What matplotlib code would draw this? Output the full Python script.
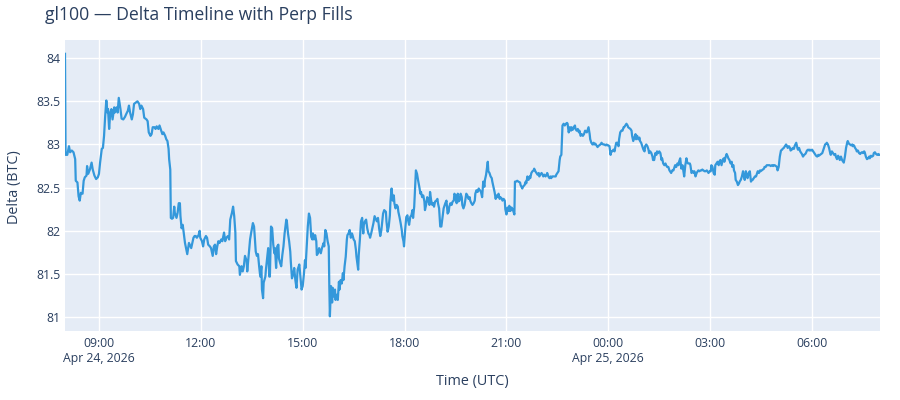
import datetime as dt
import matplotlib
matplotlib.use("Agg")
import matplotlib.pyplot as plt
import matplotlib.dates as mdates

# ---- data: minutes after 2026-04-24 08:00 UTC and delta (BTC) ----
minutes = [
    0, 1, 4, 7, 9, 12, 15, 18, 19, 22, 24, 26, 28, 31, 33, 35, 38, 39, 41, 44,
    47, 49, 52, 55, 58, 60, 62, 65, 67, 69, 71, 73, 75, 76, 78, 80, 82, 84, 87, 88,
    91, 93, 95, 98, 100, 103, 106, 108, 111, 113, 115, 118, 120, 122, 126, 128, 131, 133, 135, 138,
    140, 144, 146, 148, 151, 153, 155, 158, 160, 162, 165, 167, 169, 172, 174, 177, 179, 181, 183,
    184, 186, 187, 189, 191, 193, 194, 197, 199, 201, 203, 204, 206, 208, 210, 212, 215, 216, 219, 221,
    223, 225, 227, 229, 231, 233, 236, 238, 239, 242, 244, 246, 249, 251, 253, 256, 258, 261, 263, 265,
    267, 269, 271, 273, 276, 278, 281, 283, 285, 288, 290, 292, 295, 297, 299, 301, 302, 305, 308, 309,
    312, 314, 316, 318, 321, 322, 325, 327, 329, 332, 334, 335, 337, 339, 341, 343, 345, 347, 348, 350,
    351, 354, 355, 357, 359, 361,
    362, 364, 366, 368, 370, 371, 373, 375, 377, 378, 380, 382, 384, 386, 388, 391, 392, 394, 396, 398,
    399, 401, 403, 405, 407, 409, 411, 414, 416, 418, 420, 422, 424, 425, 427, 429, 431, 433, 435, 437,
    438, 440, 442, 444, 445, 447, 449, 451, 452, 454, 457, 458, 460, 462, 464, 466, 467, 468, 470, 472,
    473, 475, 477, 478, 480, 482, 484, 485, 487, 489, 491, 492, 494, 496, 498, 499, 501, 503, 505, 507,
    508, 510, 512, 514, 515, 518, 519, 521, 523, 525, 527, 528, 530, 532, 534, 536, 538, 539, 541, 543,
    545, 547,
    551, 553, 555, 557, 559, 561, 562, 564, 567, 568, 570, 572, 574, 575, 577, 579, 581, 582, 584, 586,
    588, 589, 591, 593, 595, 596, 598, 599, 601, 603, 605, 606, 608, 610, 612, 614, 615, 617, 619, 620,
    622, 624, 626, 628, 629, 631, 633, 635, 636, 638, 640, 642, 644, 645, 647, 649, 651, 652, 654, 656,
    658, 659, 661, 663, 665, 667, 669, 671, 672, 674, 676, 678, 679, 681, 683, 685, 687, 688, 690, 692,
    694, 695, 697, 699, 701, 702, 704, 706, 708, 709, 711, 713, 715, 716, 718, 720, 722, 724, 725, 727,
    729, 731,
    733, 735, 737, 739, 741, 742, 744, 747, 748, 750, 752, 754, 755, 757, 759, 761, 762, 764, 766, 768,
    769, 771, 773, 775, 777, 778, 780, 782, 784, 785, 787, 789, 791, 792, 794, 795, 797, 799, 801, 804,
    805, 808, 809, 812, 814, 815, 817, 819, 821, 822, 824, 826, 828, 829, 831, 833, 835, 837, 838, 840,
    842, 844, 845, 847, 849, 851, 852, 854, 856, 858, 859, 861, 863, 865, 867, 868, 870, 872, 874, 875,
    877, 878, 879, 881, 883, 885, 887, 888, 890, 892, 894, 895, 897, 899, 901, 902, 904, 906, 908, 909,
    911, 913, 915, 917,
    919, 922, 925, 927, 928, 930, 932, 934, 935, 937, 939, 941, 942, 944, 946, 948, 949, 951, 953, 955,
    957, 958, 960, 962, 964, 965, 967, 969, 971, 972, 974, 976, 978, 979, 981, 983, 985, 987, 988, 990,
    992, 994, 995, 997, 999, 1001, 1002, 1004, 1006, 1008, 1009, 1011, 1013, 1015, 1016, 1018, 1020, 1022, 1024, 1025,
    1027, 1029, 1031, 1032, 1034, 1036, 1038, 1039, 1041, 1043, 1045, 1046, 1048, 1050, 1052, 1054, 1055, 1057, 1059, 1061,
    1062, 1064, 1066, 1068, 1069, 1071, 1073, 1075, 1077, 1078, 1080, 1082, 1084, 1085, 1087, 1089, 1091, 1092, 1094, 1096,
    1098, 1099, 1101,
    1104, 1105, 1107, 1109, 1111, 1112, 1114, 1116, 1118, 1119, 1121, 1123, 1125, 1126, 1128, 1130, 1132, 1134, 1135, 1137,
    1139, 1141, 1142, 1144, 1146, 1148, 1149, 1151, 1153, 1155, 1156, 1158, 1160, 1162, 1164, 1165, 1167, 1169, 1171, 1172,
    1174, 1176, 1178, 1179, 1181, 1182, 1184, 1185, 1187, 1189, 1191, 1192, 1194, 1196, 1198, 1199, 1201, 1203, 1205, 1206,
    1208, 1210, 1212, 1214, 1215, 1217, 1219, 1221, 1222, 1224, 1226, 1228, 1229, 1231, 1233, 1235, 1236, 1238, 1240, 1242,
    1244, 1245, 1247, 1249, 1251, 1252, 1254, 1256, 1258, 1259, 1261, 1263, 1265, 1267, 1268, 1270, 1272, 1274, 1275, 1277,
    1279, 1281, 1282, 1284, 1286, 1288,
    1289, 1292, 1294, 1295, 1297, 1299, 1301, 1302, 1304, 1306, 1308, 1309, 1311, 1313, 1315, 1316, 1318, 1320, 1322, 1324,
    1325, 1327, 1329, 1331, 1332, 1334, 1336, 1338, 1339, 1341, 1343, 1345, 1346, 1348, 1350, 1352, 1353, 1355, 1357, 1359,
    1361, 1362, 1364, 1366, 1368, 1369, 1371, 1373, 1375, 1376, 1378, 1380, 1382, 1383, 1385, 1387, 1389, 1391, 1392, 1394,
    1396, 1398, 1399, 1401, 1403, 1405, 1406, 1408, 1410, 1412, 1413, 1415, 1417, 1419, 1421, 1422, 1424, 1426, 1428, 1429,
    1431, 1433, 1435, 1437, 1438, 1440,
]

delta = [
    84.05, 82.88, 82.88, 82.98, 82.91, 82.93, 82.91, 82.83, 82.58, 82.56, 82.40, 82.35, 82.44, 82.43, 82.58, 82.62, 82.64, 82.75, 82.66, 82.71,
    82.79, 82.71, 82.64, 82.60, 82.62, 82.66, 82.79, 82.95, 82.96, 83.10, 83.33, 83.51, 83.37, 83.41, 83.18, 83.37, 83.41, 83.29, 83.43, 83.37,
    83.43, 83.37, 83.54, 83.41, 83.30, 83.29, 83.32, 83.35, 83.39, 83.45, 83.37, 83.29, 83.35, 83.47, 83.49, 83.50, 83.47, 83.41, 83.45, 83.41,
    83.31, 83.29, 83.27, 83.14, 83.10, 83.12, 83.20, 83.20, 83.18, 83.21, 83.18, 83.22, 83.18, 83.12, 83.14, 83.10, 83.06, 83.04, 82.95,
    82.83, 82.71, 82.15, 82.14, 82.15, 82.28, 82.21, 82.15, 82.21, 82.32, 82.32, 82.17, 82.03, 82.07, 81.96, 81.86, 81.76, 81.73, 81.86, 81.83,
    81.80, 81.86, 81.92, 81.94, 81.94, 81.92, 81.95, 82.00, 81.92, 81.88, 81.82, 81.90, 81.94, 81.92, 81.84, 81.82, 81.80, 81.71, 81.82, 81.84,
    81.73, 81.82, 81.88, 81.86, 81.90, 81.88, 81.98, 81.88, 81.92, 81.94, 81.90, 82.13, 82.21, 82.28, 82.17, 81.98, 81.65, 81.61, 81.59, 81.49,
    81.59, 81.53, 81.59, 81.71, 81.65, 81.53, 81.75, 81.90, 81.98, 82.09, 82.05, 81.96, 81.76, 81.71, 81.73, 81.59, 81.47, 81.59, 81.32, 81.22,
    81.40, 81.47, 81.55, 81.67, 81.80, 81.47,
    81.47, 82.05, 82.03, 81.84, 81.74, 81.80, 81.57, 81.82, 81.84, 81.68, 81.63, 81.59, 81.72, 81.82, 81.97, 82.13, 82.11, 81.97, 81.88, 81.76,
    81.64, 81.45, 81.49, 81.57, 81.43, 81.34, 81.55, 81.61, 81.47, 81.32, 81.36, 81.49, 81.66, 81.57, 81.80, 82.05, 82.20, 82.15, 81.93, 81.90,
    81.97, 81.90, 81.95, 81.88, 81.72, 81.74, 81.80, 81.76, 81.74, 81.80, 81.86, 81.82, 82.01, 81.97, 81.88, 81.82, 81.36, 81.01, 81.36, 81.17,
    81.34, 81.24, 81.32, 81.20, 81.26, 81.20, 81.41, 81.32, 81.43, 81.39, 81.51, 81.43, 81.59, 81.70, 81.90, 81.95, 81.97, 82.01, 81.92, 81.97,
    81.95, 81.90, 81.88, 81.78, 81.70, 81.55, 81.72, 81.90, 82.11, 82.15, 81.97, 82.07, 82.11, 82.13, 82.03, 81.97, 81.95, 81.92, 81.97, 82.03,
    82.09, 82.17,
    82.11, 82.15, 82.03, 81.94, 82.01, 82.13, 82.20, 82.24, 82.22, 82.11, 81.99, 82.05, 82.18, 82.34, 82.49, 82.35, 82.41, 82.32, 82.26, 82.30,
    82.28, 82.22, 82.16, 82.09, 82.01, 81.94, 81.88, 81.82, 82.01, 82.16, 82.18, 82.13, 82.07, 82.16, 82.18, 82.24, 82.15, 82.28, 82.55, 82.70,
    82.66, 82.58, 82.51, 82.43, 82.45, 82.39, 82.41, 82.34, 82.24, 82.30, 82.39, 82.35, 82.30, 82.45, 82.35, 82.30, 82.32, 82.28, 82.34, 82.35,
    82.37, 82.32, 82.26, 82.05, 82.05, 82.16, 82.26, 82.30, 82.32, 82.35, 82.20, 82.22, 82.28, 82.32, 82.30, 82.34, 82.35, 82.43, 82.41, 82.32,
    82.43, 82.34, 82.35, 82.43, 82.39, 82.30, 82.26, 82.30, 82.39, 82.43, 82.41, 82.37, 82.39, 82.35, 82.32, 82.30, 82.32, 82.35, 82.43, 82.47,
    82.45, 82.49,
    82.47, 82.45, 82.39, 82.57, 82.51, 82.59, 82.65, 82.80, 82.69, 82.67, 82.63, 82.61, 82.57, 82.51, 82.45, 82.37, 82.41, 82.39, 82.43, 82.37,
    82.39, 82.38, 82.35, 82.37, 82.35, 82.25, 82.19, 82.27, 82.23, 82.29, 82.23, 82.27, 82.25, 82.23, 82.19, 82.57, 82.57, 82.58, 82.57, 82.56,
    82.53, 82.49, 82.51, 82.53, 82.57, 82.55, 82.63, 82.59, 82.63, 82.61, 82.67, 82.69, 82.70, 82.72, 82.69, 82.67, 82.65, 82.67, 82.63, 82.65,
    82.67, 82.65, 82.63, 82.65, 82.63, 82.65, 82.67, 82.63, 82.61, 82.63, 82.61, 82.63, 82.63, 82.63, 82.63, 82.65, 82.67, 82.69, 82.82, 82.86,
    82.88, 83.06, 83.22, 83.24, 83.22, 83.24, 83.25, 83.24, 83.14, 83.20, 83.16, 83.20, 83.17, 83.20, 83.22, 83.18, 83.16, 83.18, 83.14, 83.16,
    83.10, 83.12, 83.10, 83.12,
    83.16, 83.14, 83.20, 83.12, 83.06, 83.02, 83.00, 83.02, 83.00, 83.01, 82.99, 82.97, 82.98, 82.99, 83.00, 83.02, 83.01, 83.00, 83.00, 82.99,
    83.00, 82.99, 82.99, 82.98, 82.88, 82.92, 82.92, 82.94, 82.92, 82.96, 83.02, 83.02, 82.98, 83.06, 83.14, 83.16, 83.16, 83.20, 83.20, 83.22,
    83.24, 83.22, 83.20, 83.19, 83.18, 83.16, 83.10, 83.04, 83.08, 83.12, 83.06, 83.10, 83.06, 83.08, 83.04, 83.02, 82.98, 82.94, 82.92, 82.98,
    83.00, 82.98, 82.94, 82.90, 82.92, 82.90, 82.86, 82.82, 82.82, 82.90, 82.88, 82.92, 82.90, 82.92, 82.90, 82.82, 82.84, 82.78, 82.76, 82.78,
    82.76, 82.74, 82.74, 82.70, 82.69, 82.67, 82.70, 82.70, 82.74, 82.76, 82.74, 82.78, 82.76, 82.80, 82.84, 82.72, 82.76, 82.72, 82.63, 82.76,
    82.84, 82.80, 82.78,
    82.78, 82.76, 82.67, 82.69, 82.67, 82.69, 82.63, 82.67, 82.69, 82.70, 82.69, 82.70, 82.70, 82.71, 82.70, 82.69, 82.69, 82.70, 82.69, 82.67,
    82.69, 82.69, 82.76, 82.74, 82.67, 82.65, 82.76, 82.78, 82.80, 82.76, 82.80, 82.82, 82.76, 82.82, 82.84, 82.80, 82.85, 82.89, 82.86, 82.84,
    82.82, 82.78, 82.80, 82.74, 82.76, 82.70, 82.67, 82.59, 82.57, 82.53, 82.55, 82.57, 82.59, 82.63, 82.69, 82.65, 82.59, 82.69, 82.63, 82.61,
    82.67, 82.69, 82.57, 82.59, 82.59, 82.61, 82.63, 82.63, 82.65, 82.69, 82.67, 82.70, 82.69, 82.70, 82.71, 82.72, 82.74, 82.74, 82.76, 82.76,
    82.76, 82.76, 82.75, 82.76, 82.75, 82.76, 82.76, 82.75, 82.74, 82.70, 82.74, 82.86, 82.93, 82.94, 82.95, 82.96, 82.98, 83.00, 82.99, 82.96,
    82.98, 82.96, 82.93, 82.94, 82.96, 82.95,
    82.98, 83.02, 82.96, 82.94, 82.96, 82.92, 82.90, 82.89, 82.86, 82.88, 82.89, 82.90, 82.93, 82.94, 82.93, 82.94, 82.93, 82.94, 82.92, 82.90,
    82.89, 82.87, 82.86, 82.88, 82.87, 82.88, 82.89, 82.90, 82.92, 82.96, 83.00, 83.01, 83.02, 83.00, 82.96, 82.90, 82.88, 82.92, 82.90, 82.88,
    82.89, 82.86, 82.83, 82.87, 82.84, 82.82, 82.86, 82.82, 82.80, 82.79, 82.86, 82.96, 83.02, 83.04, 83.01, 83.00, 82.99, 83.00, 82.98, 82.99,
    82.96, 82.94, 82.92, 82.93, 82.90, 82.89, 82.90, 82.91, 82.90, 82.92, 82.91, 82.86, 82.83, 82.84, 82.86, 82.84, 82.87, 82.86, 82.87, 82.90,
    82.91, 82.89, 82.88, 82.89, 82.88, 82.88,
]

start_time = dt.datetime(2026, 4, 24, 8, 0)
tick_times = [dt.datetime(2026, 4, 24, h) for h in (9, 12, 15, 18, 21)] + \
             [dt.datetime(2026, 4, 25, h) for h in (0, 3, 6)]
tick_labels = ["09:00\nApr 24, 2026", "12:00", "15:00", "18:00", "21:00",
               "00:00\nApr 25, 2026", "03:00", "06:00"]
y_ticks = [81, 81.5, 82, 82.5, 83, 83.5, 84]
y_labels = ["81", "81.5", "82", "82.5", "83", "83.5", "84"]

title = "gl100 \u2014 Delta Timeline with Perp Fills"
x_title = "Time (UTC)"
y_title = "Delta (BTC)"

# ---- plotting ----
plt.rcParams["font.family"] = ["Open Sans", "DejaVu Sans"]
text_color = "#2a3f5f"

fig = plt.figure(figsize=(9, 4), dpi=100)
ax = fig.add_axes([65 / 900, 1 - 331 / 400, 815 / 900, 291 / 400])
ax.set_facecolor("#E5ECF6")

times = [start_time + dt.timedelta(minutes=m) for m in minutes]
ax.plot(times, delta, color="#3498db", linewidth=1.6, solid_joinstyle="round", zorder=3)

ax.set_xlim(start_time, start_time + dt.timedelta(minutes=1440))
ax.set_ylim(80.84, 84.21)

ax.set_xticks([mdates.date2num(t) for t in tick_times])
ax.set_xticklabels(tick_labels)
ax.set_yticks(y_ticks)
ax.set_yticklabels(y_labels)

ax.grid(True, color="white", linewidth=1.0, zorder=0)
ax.set_axisbelow(True)
for s in ax.spines.values():
    s.set_visible(False)
ax.tick_params(axis="both", length=0, colors=text_color, labelsize=8.8)
ax.tick_params(axis="x", pad=4)
ax.tick_params(axis="y", pad=3)

fig.text(45 / 900, 1 - 15 / 400, title, fontsize=12.7, color=text_color,
         ha="left", va="center")
fig.text((65 + 880) / 2 / 900, 1 - 382 / 400, x_title, fontsize=10.4, color=text_color,
         ha="center", va="center")
fig.text(15 / 900, 1 - 187 / 400, y_title, fontsize=10.4, color=text_color,
         ha="center", va="center", rotation=90)

fig.savefig("out.png", dpi=100, facecolor="white")
